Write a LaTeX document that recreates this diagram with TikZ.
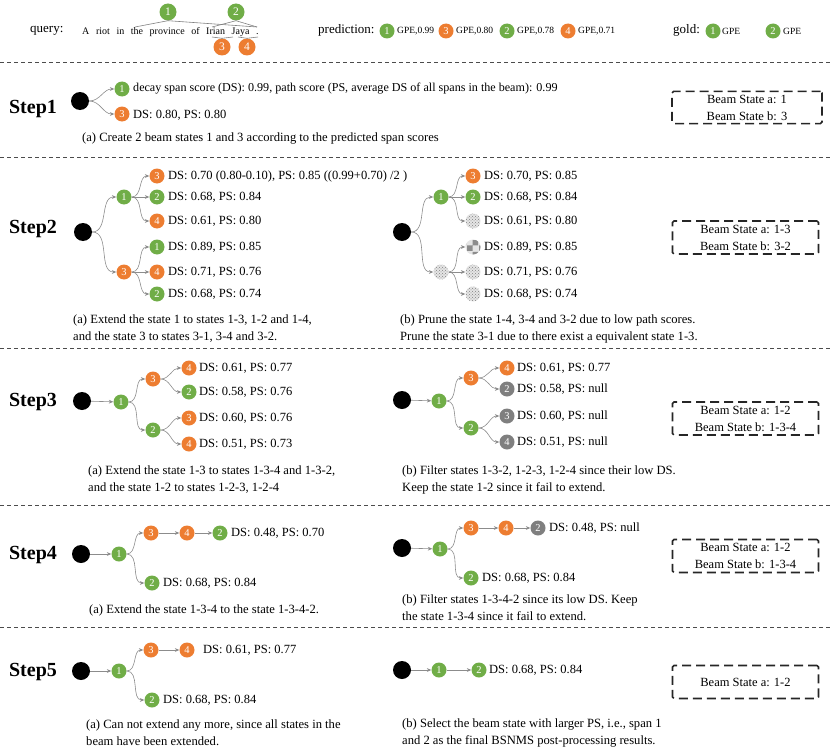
\documentclass[tikz,border=0pt]{standalone}
\usepackage{fontspec}
\setmainfont{Liberation Serif}
\usetikzlibrary{arrows.meta,patterns}
\definecolor{ogreen}{HTML}{70AD47}
\definecolor{oorange}{HTML}{ED7D31}
\definecolor{ngray}{HTML}{7F7F7F}
\definecolor{agray}{HTML}{8C8C8C}
\begin{document}
\begin{tikzpicture}[x=1pt,y=-1pt,
  circ/.style={circle,minimum size=15pt,inner sep=0pt,text=white,font=\fontsize{10.5}{10.5}\selectfont},
  gnode/.style={circ,fill=ogreen},
  onode/.style={circ,fill=oorange},
  grnode/.style={circ,fill=ngray},
  patnode/.style={circ,fill=gray!20,postaction={pattern=crosshatch dots,pattern color=gray}},
  patbnode/.style={circ,fill=gray!20,postaction={pattern=checkerboard,pattern color=gray!90}},
  hgnode/.style={gnode,minimum size=17pt,font=\fontsize{11.5}{11.5}\selectfont},
  honode/.style={onode,minimum size=17pt,font=\fontsize{11.5}{11.5}\selectfont},
  blk/.style={circle,fill=black,minimum size=18pt,inner sep=0pt},
  lbl/.style={anchor=west,inner sep=2pt,font=\fontsize{12.5}{14}\selectfont},
  captxt/.style={anchor=west,inner sep=2pt,align=left,font=\fontsize{12.6}{17}\selectfont},
  hdr/.style={anchor=west,inner sep=1pt,font=\fontsize{13}{14}\selectfont},
  smalllbl/.style={anchor=west,inner sep=1pt,font=\fontsize{9.5}{10}\selectfont},
  steplbl/.style={font=\fontsize{20}{22}\selectfont\bfseries},
  ar/.style={-{Stealth[length=4.5pt,width=3.8pt]},draw=agray,line width=0.6pt},
  hline/.style={draw=gray,line width=0.6pt},
  sepline/.style={draw=black!70,line width=0.6pt,dash pattern=on 4pt off 3pt},
  beam/.style={draw=black!85,line width=1.6pt,dash pattern=on 9pt off 5pt,rounded corners=1.5pt,minimum width=146pt,minimum height=33pt,align=center,font=\fontsize{12.5}{17}\selectfont}
]
\useasboundingbox (0,0) rectangle (830,752);

% ---------------- header ----------------
\node[hdr] (qry) at (29,31) {query:};
\node[anchor=west,inner sep=1pt,font=\fontsize{10}{12}\selectfont] (sent) at (81,32) {\spaceskip=6.6pt A riot in the province of Irian Jaya .};
\node[hgnode] (h1) at (168,12) {1};
\node[hgnode] (h2) at (236,12) {2};
\node[honode] (h3) at (222,47) {3};
\node[honode] (h4) at (247,47) {4};
\coordinate (h1l) at (135,27);
\coordinate (h1r) at (257,27);
\coordinate (h2l) at (212,27);
\coordinate (h2r) at (257,27);
\coordinate (h3l) at (212,37);
\coordinate (h3r) at (233,37);
\coordinate (h4l) at (238,37);
\coordinate (h4r) at (258,37);
\draw[hline] (h1.south) -- (h1l);
\draw[hline] (h1.south) -- (h1r);
\draw[hline] (h2.south) -- (h2l);
\draw[hline] (h2.south) -- (h2r);
\draw[hline] (h3.north) -- (h3l);
\draw[hline] (h3.north) -- (h3r);
\draw[hline] (h4.north) -- (h4l);
\draw[hline] (h4.north) -- (h4r);

\node[hdr] (pred) at (317,30) {prediction:};
\node[gnode] (p1) at (387,31) {1};
\node[smalllbl] (p1t) at (396,31) {GPE,0.99};
\node[onode] (p3) at (446,31) {3};
\node[smalllbl] (p3t) at (455,31) {GPE,0.80};
\node[gnode] (p2) at (507,31) {2};
\node[smalllbl] (p2t) at (516,31) {GPE,0.78};
\node[onode] (p4) at (568,31) {4};
\node[smalllbl] (p4t) at (577,31) {GPE,0.71};
\node[hdr] (gold) at (672,30) {gold:};
\node[gnode] (g1) at (713,31) {1};
\node[smalllbl] (g1t) at (721,31) {GPE};
\node[gnode] (g2) at (773,31) {2};
\node[smalllbl] (g2t) at (782,31) {GPE};

% separators
\draw[sepline] (0,62) -- (830,62);
\draw[sepline] (0,157) -- (830,157);
\draw[sepline] (0,348) -- (830,348);
\draw[sepline] (0,505) -- (830,505);
\draw[sepline] (0,627) -- (830,627);

% ---------------- Step 1 ----------------
\node[steplbl] (st1) at (33,109) {Step1};
\node[blk] (d1) at (80,101) {};
\node[gnode] (a1) at (122,89) {1};
\node[onode] (a3) at (122,114) {3};
\draw[ar] (d1) to[out=0,in=180] (a1);
\draw[ar] (d1) to[out=0,in=180] (a3);
\node[lbl,font=\fontsize{12.1}{14}\selectfont] (a1t) at (131,89) {decay span score (DS): 0.99, path score (PS, average DS of all spans in the beam): 0.99};
\node[lbl] (a3t) at (131,115) {DS: 0.80, PS: 0.80};
\node[captxt] (c1) at (80,138) {(a) Create 2 beam states 1 and 3 according to the predicted span scores};
\node[beam,minimum width=150pt,minimum height=31pt] (b1) at (747,107.5) {Beam State a: 1\\Beam State b: 3};

% ---------------- Step 2 (a) ----------------
\node[steplbl] (st2) at (33,229) {Step2};
\node[blk] (d2) at (83,232) {};
\node[gnode] (e1) at (124,197) {1};
\node[onode] (e3) at (124,272) {3};
\node[onode] (e11) at (157,176) {3};
\node[gnode] (e12) at (157,197) {2};
\node[onode] (e13) at (157,221) {4};
\node[gnode] (e21) at (157,247) {1};
\node[onode] (e22) at (157,272) {4};
\node[gnode] (e23) at (157,294) {2};
\draw[ar] (d2) to[out=0,in=180] (e1);
\draw[ar] (d2) to[out=0,in=180] (e3);
\draw[ar] (e1) to[out=0,in=180] (e11);
\draw[ar] (e1) -- (e12);
\draw[ar] (e1) to[out=0,in=180] (e13);
\draw[ar] (e3) to[out=0,in=180] (e21);
\draw[ar] (e3) -- (e22);
\draw[ar] (e3) to[out=0,in=180] (e23);
\node[lbl] (e11t) at (166,176) {DS: 0.70 (0.80-0.10), PS: 0.85 ((0.99+0.70) /2 )};
\node[lbl] (e12t) at (166,197) {DS: 0.68, PS: 0.84};
\node[lbl] (e13t) at (166,221) {DS: 0.61, PS: 0.80};
\node[lbl] (e21t) at (166,247) {DS: 0.89, PS: 0.85};
\node[lbl] (e22t) at (166,272) {DS: 0.71, PS: 0.76};
\node[lbl] (e23t) at (166,294) {DS: 0.68, PS: 0.74};
\node[captxt] (c2a) at (71,328.5) {(a) Extend the state 1 to states 1-3, 1-2 and 1-4,\\and the state 3 to states 3-1, 3-4 and 3-2.};

% ---------------- Step 2 (b) ----------------
\node[blk] (d2b) at (402,232) {};
\node[gnode] (f1) at (441,197) {1};
\node[patnode] (f3) at (441,272) {};
\node[onode] (f11) at (473,176) {3};
\node[gnode] (f12) at (473,197) {2};
\node[patnode] (f13) at (473,221) {};
\node[patbnode] (f21) at (473,247) {};
\node[patnode] (f22) at (473,272) {};
\node[patnode] (f23) at (473,294) {};
\draw[ar] (d2b) to[out=0,in=180] (f1);
\draw[ar] (d2b) to[out=0,in=180] (f3);
\draw[ar] (f1) to[out=0,in=180] (f11);
\draw[ar] (f1) -- (f12);
\draw[ar] (f1) to[out=0,in=180] (f13);
\draw[ar] (f3) to[out=0,in=180] (f21);
\draw[ar] (f3) -- (f22);
\draw[ar] (f3) to[out=0,in=180] (f23);
\node[lbl] (f11t) at (482,176) {DS: 0.70, PS: 0.85};
\node[lbl] (f12t) at (482,197) {DS: 0.68, PS: 0.84};
\node[lbl] (f13t) at (482,221) {DS: 0.61, PS: 0.80};
\node[lbl] (f21t) at (482,247) {DS: 0.89, PS: 0.85};
\node[lbl] (f22t) at (482,272) {DS: 0.71, PS: 0.76};
\node[lbl] (f23t) at (482,294) {DS: 0.68, PS: 0.74};
\node[captxt] (c2b) at (398,328.5) {(b) Prune the state 1-4, 3-4 and 3-2 due to low path scores.\\Prune the state 3-1 due to there exist a equivalent state 1-3.};
\node[beam] (b2) at (745.5,237.5) {Beam State a: 1-3\\Beam State b: 3-2};

% ---------------- Step 3 (a) ----------------
\node[steplbl] (st3) at (33,402) {Step3};
\node[blk] (d3) at (82,401) {};
\node[gnode] (g31) at (121,402) {1};
\node[onode] (g33) at (153,379) {3};
\node[gnode] (g32) at (153,430) {2};
\node[onode] (g334) at (189,368) {4};
\node[gnode] (g332) at (189,392) {2};
\node[onode] (g323) at (189,418) {3};
\node[onode] (g324) at (189,444) {4};
\draw[ar] (d3) -- (g31);
\draw[ar] (g31) to[out=0,in=180] (g33);
\draw[ar] (g31) to[out=0,in=180] (g32);
\draw[ar] (g33) to[out=0,in=180] (g334);
\draw[ar] (g33) to[out=0,in=180] (g332);
\draw[ar] (g32) to[out=0,in=180] (g323);
\draw[ar] (g32) to[out=0,in=180] (g324);
\node[lbl] (g334t) at (197,368) {DS: 0.61, PS: 0.77};
\node[lbl] (g332t) at (197,392) {DS: 0.58, PS: 0.76};
\node[lbl] (g323t) at (197,418) {DS: 0.60, PS: 0.76};
\node[lbl] (g324t) at (197,444) {DS: 0.51, PS: 0.73};
\node[captxt] (c3a) at (86,479.5) {(a) Extend the state 1-3 to states 1-3-4 and 1-3-2,\\and the state 1-2 to states 1-2-3, 1-2-4};

% ---------------- Step 3 (b) ----------------
\node[blk] (d3b) at (402,400) {};
\node[gnode] (k31) at (439,401) {1};
\node[onode] (k33) at (471,378) {3};
\node[gnode] (k32) at (471,428) {2};
\node[onode] (k334) at (507,368) {4};
\node[grnode] (k332) at (507,389) {2};
\node[grnode] (k323) at (507,416) {3};
\node[grnode] (k324) at (507,442) {4};
\draw[ar] (d3b) -- (k31);
\draw[ar] (k31) to[out=0,in=180] (k33);
\draw[ar] (k31) to[out=0,in=180] (k32);
\draw[ar] (k33) to[out=0,in=180] (k334);
\draw[ar] (k33) to[out=0,in=180] (k332);
\draw[ar] (k32) to[out=0,in=180] (k323);
\draw[ar] (k32) to[out=0,in=180] (k324);
\node[lbl] (k334t) at (515,368) {DS: 0.61, PS: 0.77};
\node[lbl] (k332t) at (515,389) {DS: 0.58, PS: null};
\node[lbl] (k323t) at (515,416) {DS: 0.60, PS: null};
\node[lbl] (k324t) at (515,442) {DS: 0.51, PS: null};
\node[captxt] (c3b) at (400,479.5) {(b) Filter states 1-3-2, 1-2-3, 1-2-4 since their low DS.\\Keep the state 1-2 since it fail to extend.};
\node[beam] (b3) at (745.5,418.5) {Beam State a: 1-2\\Beam State b: 1-3-4};

% ---------------- Step 4 (a) ----------------
\node[steplbl] (st4) at (33,555) {Step4};
\node[blk] (d4) at (81,554) {};
\node[gnode] (m1) at (119,554) {1};
\node[onode] (m3) at (151,533) {3};
\node[onode] (m4) at (187,533) {4};
\node[gnode] (m2) at (220,533) {2};
\node[gnode] (m2b) at (152,583) {2};
\draw[ar] (d4) -- (m1);
\draw[ar] (m1) to[out=0,in=180] (m3);
\draw[ar] (m3) -- (m4);
\draw[ar] (m4) -- (m2);
\draw[ar] (m1) to[out=0,in=180] (m2b);
\node[lbl] (m2t) at (229,533) {DS: 0.48, PS: 0.70};
\node[lbl] (m2bt) at (161,583) {DS: 0.68, PS: 0.84};
\node[captxt] (c4a) at (87,610) {(a) Extend the state 1-3-4 to the state 1-3-4-2.};

% ---------------- Step 4 (b) ----------------
\node[blk] (d4b) at (402,548) {};
\node[gnode] (n1) at (440,549) {1};
\node[onode] (n3) at (471,528) {3};
\node[onode] (n4) at (506,528) {4};
\node[grnode] (n2) at (538,528) {2};
\node[gnode] (n2b) at (471,578) {2};
\draw[ar] (d4b) -- (n1);
\draw[ar] (n1) to[out=0,in=180] (n3);
\draw[ar] (n3) -- (n4);
\draw[ar] (n4) -- (n2);
\draw[ar] (n1) to[out=0,in=180] (n2b);
\node[lbl] (n2t) at (547,528) {DS: 0.48, PS: null};
\node[lbl] (n2bt) at (480,578) {DS: 0.68, PS: 0.84};
\node[captxt] (c4b) at (400,607.5) {(b) Filter states 1-3-4-2 since its low DS. Keep\\the state 1-3-4 since it fail to extend.};
\node[beam] (b4) at (745.5,556) {Beam State a: 1-2\\Beam State b: 1-3-4};

% ---------------- Step 5 (a) ----------------
\node[steplbl] (st5) at (33,672) {Step5};
\node[blk] (d5) at (81,671) {};
\node[gnode] (r1) at (119,671) {1};
\node[onode] (r3) at (151,650) {3};
\node[onode] (r4) at (187,650) {4};
\node[gnode] (r2) at (152,700) {2};
\draw[ar] (d5) -- (r1);
\draw[ar] (r1) to[out=0,in=180] (r3);
\draw[ar] (r3) -- (r4);
\draw[ar] (r1) to[out=0,in=180] (r2);
\node[lbl] (r4t) at (201,650) {DS: 0.61, PS: 0.77};
\node[lbl] (r2t) at (161,700) {DS: 0.68, PS: 0.84};
\node[captxt] (c5a) at (84,732.5) {(a) Can not extend any more, since all states in the\\beam have been extended.};

% ---------------- Step 5 (b) ----------------
\node[blk] (d5b) at (402,670) {};
\node[gnode] (s51) at (439,670) {1};
\node[gnode] (s52) at (479,670) {2};
\draw[ar] (d5b) -- (s51);
\draw[ar] (s51) -- (s52);
\node[lbl] (s52t) at (487,670) {DS: 0.68, PS: 0.84};
\node[captxt] (c5b) at (400,732.5) {(b) Select the beam state with larger PS, i.e., span 1\\and 2 as the final BSNMS post-processing results.};
\node[beam] (b5) at (745.5,682) {Beam State a: 1-2};
\end{tikzpicture}
\end{document}
